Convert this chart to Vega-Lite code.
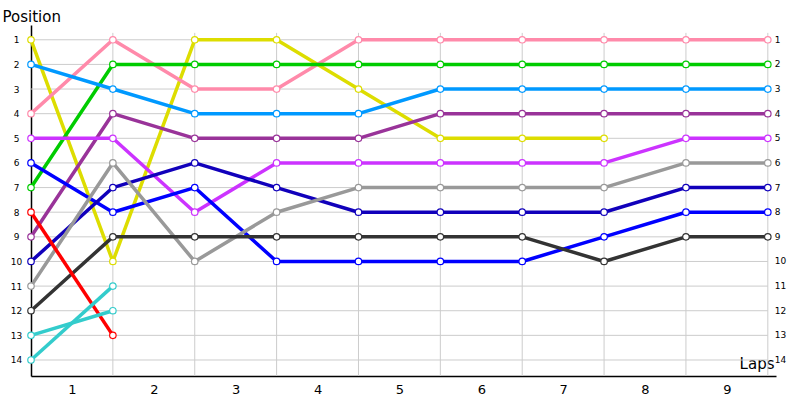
{
  "$schema": "https://vega.github.io/schema/vega-lite/v6.json",
  "description": "Lap chart",
  "width": 745,
  "height": 351,
  "autosize": "none",
  "padding": {"left": 31, "top": 25, "right": 24, "bottom": 24},
  "background": "white",
  "config": {"view": {"stroke": null}, "font": "DejaVu Sans"},
  "datasets": {
    "rows": [1, 2, 3, 4, 5, 6, 7, 8, 9, 10, 11, 12, 13, 14],
    "laps": [1, 2, 3, 4, 5, 6, 7, 8, 9],
    "race": [
      {"d": "D1", "lap": 0, "pos": 1}, {"d": "D1", "lap": 1, "pos": 10}, {"d": "D1", "lap": 2, "pos": 1}, {"d": "D1", "lap": 3, "pos": 1},
      {"d": "D1", "lap": 4, "pos": 3}, {"d": "D1", "lap": 5, "pos": 5}, {"d": "D1", "lap": 6, "pos": 5}, {"d": "D1", "lap": 7, "pos": 5},
      {"d": "D2", "lap": 0, "pos": 4}, {"d": "D2", "lap": 1, "pos": 1}, {"d": "D2", "lap": 2, "pos": 3}, {"d": "D2", "lap": 3, "pos": 3},
      {"d": "D2", "lap": 4, "pos": 1}, {"d": "D2", "lap": 5, "pos": 1}, {"d": "D2", "lap": 6, "pos": 1}, {"d": "D2", "lap": 7, "pos": 1},
      {"d": "D2", "lap": 8, "pos": 1}, {"d": "D2", "lap": 9, "pos": 1},
      {"d": "D3", "lap": 0, "pos": 7}, {"d": "D3", "lap": 1, "pos": 2}, {"d": "D3", "lap": 2, "pos": 2}, {"d": "D3", "lap": 3, "pos": 2},
      {"d": "D3", "lap": 4, "pos": 2}, {"d": "D3", "lap": 5, "pos": 2}, {"d": "D3", "lap": 6, "pos": 2}, {"d": "D3", "lap": 7, "pos": 2},
      {"d": "D3", "lap": 8, "pos": 2}, {"d": "D3", "lap": 9, "pos": 2},
      {"d": "D4", "lap": 0, "pos": 2}, {"d": "D4", "lap": 1, "pos": 3}, {"d": "D4", "lap": 2, "pos": 4}, {"d": "D4", "lap": 3, "pos": 4},
      {"d": "D4", "lap": 4, "pos": 4}, {"d": "D4", "lap": 5, "pos": 3}, {"d": "D4", "lap": 6, "pos": 3}, {"d": "D4", "lap": 7, "pos": 3},
      {"d": "D4", "lap": 8, "pos": 3}, {"d": "D4", "lap": 9, "pos": 3},
      {"d": "D5", "lap": 0, "pos": 9}, {"d": "D5", "lap": 1, "pos": 4}, {"d": "D5", "lap": 2, "pos": 5}, {"d": "D5", "lap": 3, "pos": 5},
      {"d": "D5", "lap": 4, "pos": 5}, {"d": "D5", "lap": 5, "pos": 4}, {"d": "D5", "lap": 6, "pos": 4}, {"d": "D5", "lap": 7, "pos": 4},
      {"d": "D5", "lap": 8, "pos": 4}, {"d": "D5", "lap": 9, "pos": 4},
      {"d": "D6", "lap": 0, "pos": 5}, {"d": "D6", "lap": 1, "pos": 5}, {"d": "D6", "lap": 2, "pos": 8}, {"d": "D6", "lap": 3, "pos": 6},
      {"d": "D6", "lap": 4, "pos": 6}, {"d": "D6", "lap": 5, "pos": 6}, {"d": "D6", "lap": 6, "pos": 6}, {"d": "D6", "lap": 7, "pos": 6},
      {"d": "D6", "lap": 8, "pos": 5}, {"d": "D6", "lap": 9, "pos": 5},
      {"d": "D7", "lap": 0, "pos": 6}, {"d": "D7", "lap": 1, "pos": 8}, {"d": "D7", "lap": 2, "pos": 7}, {"d": "D7", "lap": 3, "pos": 10},
      {"d": "D7", "lap": 4, "pos": 10}, {"d": "D7", "lap": 5, "pos": 10}, {"d": "D7", "lap": 6, "pos": 10}, {"d": "D7", "lap": 7, "pos": 9},
      {"d": "D7", "lap": 8, "pos": 8}, {"d": "D7", "lap": 9, "pos": 8},
      {"d": "D8", "lap": 0, "pos": 10}, {"d": "D8", "lap": 1, "pos": 7}, {"d": "D8", "lap": 2, "pos": 6}, {"d": "D8", "lap": 3, "pos": 7},
      {"d": "D8", "lap": 4, "pos": 8}, {"d": "D8", "lap": 5, "pos": 8}, {"d": "D8", "lap": 6, "pos": 8}, {"d": "D8", "lap": 7, "pos": 8},
      {"d": "D8", "lap": 8, "pos": 7}, {"d": "D8", "lap": 9, "pos": 7},
      {"d": "D9", "lap": 0, "pos": 11}, {"d": "D9", "lap": 1, "pos": 6}, {"d": "D9", "lap": 2, "pos": 10}, {"d": "D9", "lap": 3, "pos": 8},
      {"d": "D9", "lap": 4, "pos": 7}, {"d": "D9", "lap": 5, "pos": 7}, {"d": "D9", "lap": 6, "pos": 7}, {"d": "D9", "lap": 7, "pos": 7},
      {"d": "D9", "lap": 8, "pos": 6}, {"d": "D9", "lap": 9, "pos": 6},
      {"d": "D10", "lap": 0, "pos": 12}, {"d": "D10", "lap": 1, "pos": 9}, {"d": "D10", "lap": 2, "pos": 9}, {"d": "D10", "lap": 3, "pos": 9},
      {"d": "D10", "lap": 4, "pos": 9}, {"d": "D10", "lap": 5, "pos": 9}, {"d": "D10", "lap": 6, "pos": 9}, {"d": "D10", "lap": 7, "pos": 10},
      {"d": "D10", "lap": 8, "pos": 9}, {"d": "D10", "lap": 9, "pos": 9},
      {"d": "D11", "lap": 0, "pos": 8}, {"d": "D11", "lap": 1, "pos": 13},
      {"d": "D12", "lap": 0, "pos": 13}, {"d": "D12", "lap": 1, "pos": 12},
      {"d": "D13", "lap": 0, "pos": 14}, {"d": "D13", "lap": 1, "pos": 11}
    ]
  },
  "layer": [
    {
      "data": {"name": "rows"},
      "mark": {"type": "rule", "color": "#cccccc", "strokeWidth": 1},
      "encoding": {
        "y": {
          "field": "data", "type": "quantitative",
          "scale": {"domain": [0.4, 14.65], "reverse": true, "nice": false, "zero": false},
          "axis": {
            "values": [1, 2, 3, 4, 5, 6, 7, 8, 9, 10, 11, 12, 13, 14],
            "tickCount": 20,
            "ticks": false, "grid": false, "labelOverlap": false,
            "domainColor": "black", "domainWidth": 1.5,
            "labelAlign": "center", "labelPadding": 15, "labelFontSize": 9, "labelColor": "black",
            "title": "Position", "titleAngle": 0, "titleAlign": "left", "titleBaseline": "alphabetic",
            "titleX": -29, "titleY": -4, "titleFontSize": 15, "titleFontWeight": "normal", "titleColor": "black"
          }
        },
        "x": {
          "datum": 0, "type": "quantitative",
          "scale": {"domain": [0, 9.1], "nice": false, "zero": false},
          "axis": {
            "values": [0.5, 1.5, 2.5, 3.5, 4.5, 5.5, 6.5, 7.5, 8.5],
            "tickCount": 20,
            "labelExpr": "'' + (datum.value + 0.5)",
            "ticks": false, "grid": false, "labelOverlap": false,
            "domainColor": "black", "domainWidth": 1.5,
            "labelFontSize": 13, "labelPadding": 7, "labelColor": "black",
            "title": "Laps", "titleAlign": "right", "titleBaseline": "alphabetic",
            "titleX": 743, "titleY": -8, "titleFontSize": 15, "titleFontWeight": "normal", "titleColor": "black"
          }
        },
        "x2": {"datum": 9}
      }
    },
    {
      "data": {"name": "laps"},
      "mark": {"type": "rule", "color": "#cccccc", "strokeWidth": 1},
      "encoding": {
        "x": {"field": "data", "type": "quantitative"},
        "y": {"datum": 0.72, "type": "quantitative"},
        "y2": {"datum": 14.65}
      }
    },
    {
      "data": {"name": "rows"},
      "mark": {"type": "text", "align": "left", "dx": 7, "fontSize": 9, "color": "black"},
      "encoding": {
        "x": {"datum": 9, "type": "quantitative"},
        "y": {"field": "data", "type": "quantitative"},
        "text": {"field": "data", "type": "quantitative"}
      }
    },
    {
      "data": {"name": "race"},
      "mark": {"type": "line", "strokeWidth": 3.5, "strokeJoin": "round"},
      "encoding": {
        "x": {"field": "lap", "type": "quantitative"},
        "y": {"field": "pos", "type": "quantitative"},
        "order": {"field": "lap"},
        "color": {
          "field": "d", "type": "nominal", "legend": null,
          "scale": {
            "domain": ["D1", "D2", "D3", "D4", "D5", "D6", "D7", "D8", "D9", "D10", "D11", "D12", "D13"],
            "range": ["#dddd00", "#ff8aaa", "#00cc00", "#0099ff", "#993399", "#cc33ff", "#0000ff", "#1100bb", "#999999", "#333333", "#ff0000", "#33cccc", "#33cccc"]
          }
        }
      }
    },
    {
      "data": {"name": "race"},
      "mark": {"type": "point", "filled": false, "fill": "white", "fillOpacity": 1, "size": 42, "strokeWidth": 1.2, "opacity": 1},
      "encoding": {
        "x": {"field": "lap", "type": "quantitative"},
        "y": {"field": "pos", "type": "quantitative"},
        "stroke": {"field": "d", "type": "nominal", "legend": null, "scale": {
            "domain": ["D1", "D2", "D3", "D4", "D5", "D6", "D7", "D8", "D9", "D10", "D11", "D12", "D13"],
            "range": ["#dddd00", "#ff8aaa", "#00cc00", "#0099ff", "#993399", "#cc33ff", "#0000ff", "#1100bb", "#999999", "#333333", "#ff0000", "#33cccc", "#33cccc"]
          }}
      }
    },
    {
      "mark": {"type": "point", "shape": "triangle-right", "filled": true, "color": "black", "size": 30},
      "encoding": {
        "x": {"datum": 9.06, "type": "quantitative"},
        "y": {"datum": 14.65, "type": "quantitative"}
      }
    },
    {
      "mark": {"type": "point", "shape": "circle", "filled": true, "color": "black", "size": 12},
      "encoding": {
        "x": {"datum": 0, "type": "quantitative"},
        "y": {"datum": 0.4, "type": "quantitative"}
      }
    }
  ]
}
